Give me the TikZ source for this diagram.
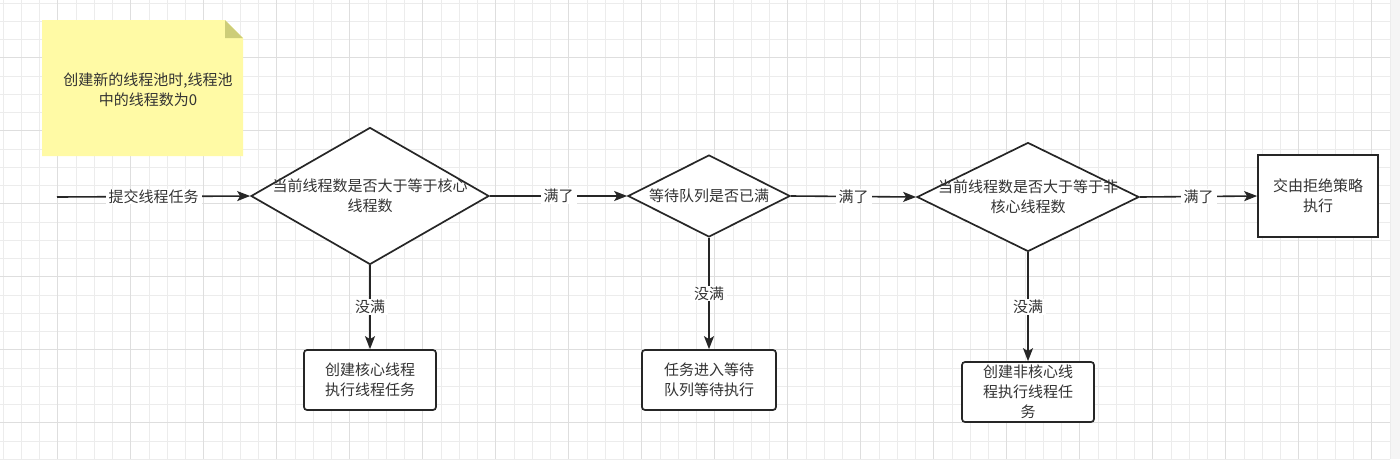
\documentclass[tikz,border=0pt]{standalone}
\usepackage{fontspec}
\setmainfont{Noto Sans CJK SC}
\usepackage{tikz}
\usetikzlibrary{positioning,shapes.geometric,arrows.meta}
\definecolor{NoteYellow}{RGB}{255,250,165}
\definecolor{NoteFold}{RGB}{205,205,120}
\definecolor{InkGray}{RGB}{51,51,51}
\definecolor{GridMinor}{RGB}{236,236,236}
\definecolor{GridMajor}{RGB}{222,222,222}
\tikzset{
	cn/.style={font=\fontsize{15}{20}\selectfont,text=InkGray,align=center},
	judge/.style={diamond,draw=black!85,line width=1.7pt,fill=white,inner sep=0pt},
	proc/.style={draw=black!85,line width=1.7pt,fill=white,rounded corners=3pt,cn},
	flow/.style={draw=black!85,line width=1.6pt,-{Stealth[length=13pt,width=10pt,inset=3pt]}},
	tag/.style={fill=white,inner xsep=3pt,inner ysep=1pt,cn},
	gridline/.style={draw=GridMinor,line width=0.8pt},
}

\begin{document}
\begin{tikzpicture}[x=1pt,y=-1pt]
	\useasboundingbox (0,0) rectangle (1400,459);
	\fill[white] (0,0) rectangle (1400,459);
	\fill[black!4] (1390,0) rectangle (1400,459);
	% grid
	\foreach \i in {0,...,76}
	\draw[gridline] ({3+18.25*\i},0) -- ({3+18.25*\i},459);
	\foreach \j in {0,...,25}
	\draw[gridline] (0,{3+18.25*\j}) -- (1390,{3+18.25*\j});
	\foreach \i in {3,7,...,75}
	\draw[gridline,draw=GridMajor] ({3+18.25*\i},0) -- ({3+18.25*\i},459);
	\foreach \j in {3,7,...,23}
	\draw[gridline,draw=GridMajor] (0,{3+18.25*\j}) -- (1390,{3+18.25*\j});
	
	% note
	\fill[NoteYellow] (42,20) -- (225,20) -- (243,38) -- (243,156) -- (42,156) -- cycle;
	\fill[NoteFold] (225,20) -- (243,38) -- (225,38) -- cycle;
	\node[cn] (note) at (148,90) {创建新的线程池时,线程池\\中的线程数为0};
	
	% decisions
	\coordinate (src) at (57,197);
	\node[judge,minimum width=238pt,minimum height=137pt] (core) at (370,196) {};
	\node[cn] at (core) {当前线程数是否大于等于核心\\线程数};
	\node[judge,minimum width=162pt,minimum height=82pt] (queue) at (709,196) {};
	\node[cn] at (queue) {等待队列是否已满};
	\node[judge,minimum width=222pt,minimum height=109pt] (maxp) at (1028,197) {};
	\node[cn] at (maxp) {当前线程数是否大于等于非\\核心线程数};
	
	% actions
	\node[proc,rounded corners=0pt,minimum width=120pt,minimum height=82pt] (reject) at (1318,196) {交由拒绝策略\\执行};
	\node[proc,minimum width=132pt,minimum height=60pt] (runcore) at (370,380) {创建核心线程\\执行线程任务};
	\node[proc,minimum width=134pt,minimum height=60pt] (enqueue) at (709,380) {任务进入等待\\队列等待执行};
	\node[proc,inner ysep=1pt,minimum width=132pt,minimum height=60pt] (runextra) at (1028,392) {创建非核心线\\程执行线程任\\务};
	
	% flow
	\foreach \a/\b/\t in {src/core.west/提交线程任务,core.east/queue.west/满了,queue.east/maxp.west/满了,maxp.east/reject.west/满了}
	\draw[flow] (\a) -- node[tag] {\t} (\b);
	\foreach \a/\b in {core/runcore,queue/enqueue,maxp/runextra}
	\draw[flow] (\a.south) -- node[tag] {没满} (\b.north);
\end{tikzpicture}
\end{document}
